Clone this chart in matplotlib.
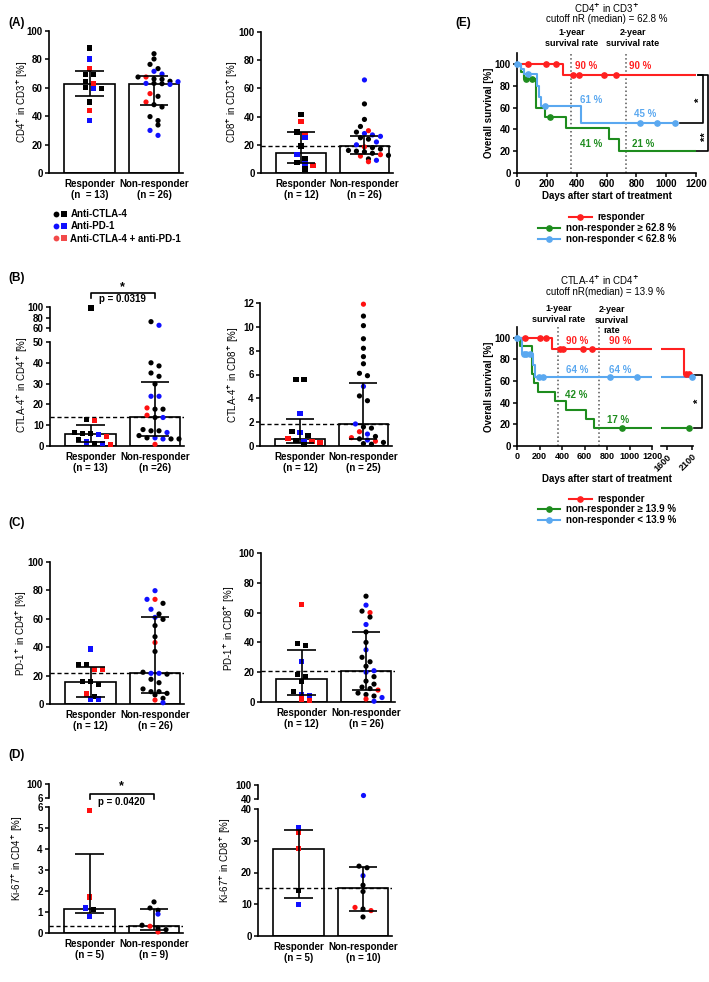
import numpy as np
import matplotlib
matplotlib.use("Agg")
import matplotlib.pyplot as plt
import matplotlib.transforms as mtransforms
from matplotlib.lines import Line2D
from matplotlib.legend_handler import HandlerTuple

plt.rcParams['font.family'] = ['Liberation Sans', 'DejaVu Sans']
plt.rcParams['font.weight'] = 'bold'
plt.rcParams['mathtext.fontset'] = 'dejavusans'
plt.rcParams['font.size'] = 7

#%% data  (C = anti-CTLA-4, P = anti-PD-1, CP = combination)
# (A) CD4+ in CD3+
A_cd4_resp = [88.0, 80.3, 73.5, 69.5, 69.5, 64.6, 63.1, 59.6, 59.4, 60.1, 50.0, 44.1, 36.9]
A_cd4_resp_tx = ['C', 'P', 'CP', 'C', 'C', 'C', 'CP', 'P', 'C', 'C', 'C', 'CP', 'P']
A_cd4_nonr = [84.0, 80.3, 76.5, 73.5, 71.6, 69.7, 67.6, 67.6, 66.2, 66.0, 64.6, 64.3, 63.1,
              63.1, 62.9, 62.4, 55.9, 54.0, 50.0, 48.1, 46.5, 39.7, 36.9, 33.8, 30.0, 26.5]
A_cd4_nonr_tx = ['C', 'C', 'C', 'C', 'P', 'P', 'C', 'CP', 'C', 'C', 'C', 'P', 'P',
                 'C', 'C', 'P', 'CP', 'C', 'CP', 'C', 'C', 'C', 'C', 'C', 'P', 'P']
A_cd4_med = [62.8, 62.8]
A_cd4_q1 = [54.5, 47.8]
A_cd4_q3 = [71.5, 68.1]

# (A) CD8+ in CD3+
A_cd8_resp = [41.6, 36.6, 29.1, 27.2, 25.1, 19.1, 13.2, 9.9, 7.3, 6.6, 5.2, 2.8]
A_cd8_resp_tx = ['C', 'CP', 'C', 'CP', 'P', 'C', 'P', 'C', 'C', 'P', 'CP', 'C']
A_cd8_nonr = [66, 49, 38, 33, 30, 29, 28, 27, 26, 25, 24, 22, 20,
              18.5, 18, 17, 16, 15.5, 15, 14, 13, 12.5, 12, 10, 9, 8]
A_cd8_nonr_tx = ['P', 'C', 'C', 'C', 'CP', 'C', 'P', 'P', 'P', 'C', 'C', 'P', 'P',
                 'CP', 'C', 'C', 'C', 'C', 'C', 'C', 'CP', 'C', 'CP', 'C', 'P', 'CP']
A_cd8_med = [14.2, 18.9]
A_cd8_q1 = [7.1, 13.5]
A_cd8_q3 = [28.8, 26.0]

# (B) CTLA-4+ in CD4+
B_cd4_resp = [98, 12.7, 12.1, 6.3, 6.0, 6.0, 5.6, 4.7, 3.1, 1.9, 1.1, 1.1, 0.8]
B_cd4_resp_tx = ['C', 'C', 'CP', 'C', 'C', 'C', 'P', 'CP', 'C', 'P', 'C', 'P', 'CP']
B_cd4_nonr = [72.5, 65.7, 40, 38.5, 35.1, 33.5, 29.8, 23.9, 23.9, 18.3, 17.7, 17.7, 14.8,
              13.7, 13.7, 7.9, 7.3, 7.3, 6.5, 5.0, 3.9, 3.9, 3.4, 3.4, 3.4, 0.8]
B_cd4_nonr_tx = ['C', 'P', 'C', 'C', 'C', 'C', 'C', 'P', 'P', 'CP', 'C', 'C', 'CP',
                 'C', 'P', 'C', 'C', 'C', 'P', 'C', 'C', 'P', 'P', 'C', 'C', 'CP']
B_cd4_med = [5.6, 13.9]
B_cd4_q1 = [1.8, 4.9]
B_cd4_q3 = [10.0, 30.8]

# (B) CTLA-4+ in CD8+
B_cd8_resp = [5.6, 5.6, 2.7, 1.2, 1.15, 0.9, 0.65, 0.45, 0.35, 0.35, 0.3, 0.1]
B_cd8_resp_tx = ['C', 'C', 'P', 'C', 'P', 'C', 'CP', 'C', 'P', 'CP', 'CP', 'C']
B_cd8_nonr = [11.9, 10.9, 10.1, 9.0, 8.2, 7.5, 6.9, 6.1, 5.9, 5.0, 4.2, 3.8, 1.85,
              1.6, 1.5, 1.2, 1.0, 0.8, 0.7, 0.6, 0.5, 0.4, 0.3, 0.2, 0.15]
B_cd8_nonr_tx = ['CP', 'C', 'C', 'C', 'C', 'C', 'C', 'C', 'C', 'P', 'C', 'C', 'P',
                 'C', 'C', 'CP', 'P', 'C', 'CP', 'C', 'P', 'CP', 'C', 'C', 'C']
B_cd8_med = [0.62, 1.85]
B_cd8_q1 = [0.28, 0.6]
B_cd8_q3 = [2.3, 5.3]

# (C) PD-1+ in CD4+
C_cd4_resp = [38.8, 28, 28, 24.5, 24.5, 15.8, 15.8, 13.9, 7.1, 5.2, 3.5, 3.5]
C_cd4_resp_tx = ['P', 'C', 'C', 'CP', 'CP', 'C', 'C', 'C', 'CP', 'C', 'P', 'P']
C_cd4_nonr = [79.8, 73.7, 73.7, 70.9, 66.7, 63.4, 61, 59.6, 55.2, 47.4, 43.3, 37, 22.4,
              21.6, 21.6, 21, 17.4, 15, 10.6, 8.7, 8.7, 7.5, 6.4, 4.0, 2.8, 0.9]
C_cd4_nonr_tx = ['P', 'P', 'CP', 'C', 'P', 'C', 'P', 'C', 'C', 'C', 'CP', 'C', 'C',
                 'P', 'P', 'C', 'C', 'C', 'C', 'C', 'C', 'C', 'C', 'C', 'CP', 'P']
C_cd4_med = [15.3, 21.5]
C_cd4_q1 = [5.2, 8.0]
C_cd4_q3 = [26.4, 61.5]

# (C) PD-1+ in CD8+
C_cd8_resp = [65.3, 39.5, 38, 27.2, 18.3, 17.2, 13.8, 7.1, 4.9, 4.2, 2.0, 0.9]
C_cd8_resp_tx = ['CP', 'C', 'C', 'P', 'C', 'C', 'C', 'C', 'P', 'P', 'CP', 'CP']
C_cd8_nonr = [71, 65, 61, 60, 57, 52, 47, 40, 35, 30, 27, 24, 21,
              20, 17, 14, 12, 10, 9, 8, 6, 5, 4, 3, 2, 0.5]
C_cd8_nonr_tx = ['C', 'P', 'C', 'CP', 'C', 'P', 'C', 'C', 'P', 'C', 'C', 'C', 'P',
                 'P', 'C', 'C', 'C', 'C', 'C', 'CP', 'C', 'C', 'C', 'P', 'CP', 'P']
C_cd8_med = [15.4, 20.5]
C_cd8_q1 = [4.5, 8.0]
C_cd8_q3 = [35.0, 47.0]

# (D) Ki-67+ in CD4+ / CD8+
D_cd4_resp = [5.85, 1.71, 1.19, 1.11, 0.79]
D_cd4_resp_tx = ['CP', 'CP', 'P', 'C', 'P']
D_cd4_nonr = [1.48, 1.19, 1.08, 0.9, 0.37, 0.32, 0.24, 0.16, 0.05]
D_cd4_nonr_tx = ['C', 'C', 'C', 'P', 'C', 'CP', 'C', 'C', 'CP']
D_cd4_med = [1.15, 0.33]
D_cd4_q1 = [0.95, 0.15]
D_cd4_q3 = [3.78, 1.13]

D_cd8_resp = [34.2, 32.5, 27.6, 14.3, 10.0]
D_cd8_resp_tx = ['P', 'CP', 'CP', 'C', 'P']
D_cd8_nonr = [57, 22, 21.5, 19, 16, 14, 9, 8.5, 8, 6]
D_cd8_nonr_tx = ['P', 'C', 'C', 'P', 'C', 'C', 'CP', 'C', 'CP', 'C']
D_cd8_med = [27.5, 15.0]
D_cd8_q1 = [12.1, 8.0]
D_cd8_q3 = [33.3, 21.6]

# (E) Kaplan-Meier, CD4+ in CD3+ cutoff 62.8 %
E1_resp_t = [0, 309, 1200]
E1_resp_s = [100, 90, 90]
E1_resp_cens = [74, 197, 264, 376, 414, 584, 667]
E1_high_t = [0, 29, 50, 130, 190, 331, 618, 683, 1200]
E1_high_s = [100, 93, 86, 60, 51.5, 41, 31, 20.6, 20.6]
E1_high_cens = [58, 103, 224]
E1_low_t = [0, 30, 45, 134, 150, 163, 432, 1059]
E1_low_s = [100, 95, 91, 80, 70, 61, 45.5, 45.5]
E1_low_cens = [0, 74, 190, 824, 936, 1059]

# (E) Kaplan-Meier, CTLA-4+ in CD4+ cutoff 13.9 %
E2_resp_t = [0, 314, 1940, 2040]
E2_resp_s = [100, 90, 67, 67]
E2_resp_cens = [74, 201, 261, 379, 409, 587, 670, 1980, 2040]
E2_high_t = [0, 30, 136, 151, 187, 335, 433, 616, 684, 2040]
E2_high_s = [100, 92, 67, 58.5, 50, 42, 33.5, 25, 17, 17]
E2_high_cens = [936, 2040]
E2_low_t = [0, 47, 142, 163, 2100]
E2_low_s = [100, 85, 75, 64, 64]
E2_low_cens = [0, 62, 83, 113, 196, 231, 830, 1067, 2100]

TX_COL = {'C': '#000000', 'P': '#1010ff', 'CP': '#ff1010'}
RED, GREEN, LBLUE = '#ff2020', '#1e8c1e', '#5aa8f0'

#%% layout helpers (pixel based)
FW, FH = 709, 982
fig = plt.figure(figsize=(FW / 100, FH / 100), dpi=100)


def px_ax(x0, x1, y0, y1):
    ax = fig.add_axes([x0 / FW, 1 - y1 / FH, (x1 - x0) / FW, (y1 - y0) / FH])
    ax.patch.set_alpha(0)
    for s in ['top', 'right']:
        ax.spines[s].set_visible(False)
    for s in ['left', 'bottom']:
        ax.spines[s].set_linewidth(1.2)
    ax.tick_params(length=3, width=1.1, labelsize=7, pad=1.5)
    return ax


def ftext(x, y, s, **kw):
    kw.setdefault('ha', 'center')
    kw.setdefault('va', 'center')
    fig.text(x / FW, 1 - y / FH, s, **kw)


def swarm_offsets(ax, vals, step_px=8.0, near_px=5.0):
    pos = ax.get_position()
    w_px, h_px = pos.width * FW, pos.height * FH
    x0, x1 = ax.get_xlim()
    y0, y1 = ax.get_ylim()
    ypx = (np.asarray(vals, float) - y0) / (y1 - y0) * h_px
    order = np.argsort(-ypx, kind='stable')
    rows = []
    for i in order:
        if rows and rows[-1][0] - ypx[i] < near_px:
            rows[-1][1].append(i)
            rows[-1][2] = ypx[i]
        else:
            rows.append([ypx[i], [i], ypx[i]])
    offs = np.zeros(len(vals))
    prev = None
    for top, idx, low in rows:
        o = (np.arange(len(idx)) - (len(idx) - 1) / 2) * step_px
        if prev is not None and prev[0] - top < near_px:
            if any(abs(a - b) < step_px * 0.9 for a in o for b in prev[1]):
                o = o + step_px / 2
        offs[idx] = o
        prev = (low, o)
    return offs * (x1 - x0) / w_px


def draw_points(ax, xc, vals, tx, marker):
    vals = np.asarray(vals, float)
    lo, hi = ax.get_ylim()
    keep = (vals >= lo) & (vals <= hi)
    if not keep.any():
        return
    v = vals[keep]
    cols = [TX_COL[t] for t, k in zip(tx, keep) if k]
    xs = xc + swarm_offsets(ax, v)
    ax.scatter(xs, v, s=14, marker=marker, c=cols, linewidths=0, zorder=3, clip_on=False)


def column_panel(axb, axt, resp, resp_tx, nonr, nonr_tx, med, q1, q3, xlabels,
                 ylim, yticks, ylim_top=None, yticks_top=None, cutoff=True):
    axb.set_xlim(-0.63, 1.45)
    axb.set_ylim(*ylim)
    axb.set_yticks(yticks)
    if axt is not None:
        axt.set_xlim(-0.63, 1.45)
        axt.set_ylim(*ylim_top)
        axt.set_yticks(yticks_top)
        axt.spines['bottom'].set_visible(False)
        axt.set_xticks([])
    axb.bar([0, 1], med, width=0.78, color='white', edgecolor='black', linewidth=1.2, zorder=1)
    if cutoff:
        axb.axhline(med[1], color='black', lw=1.0, ls=(0, (3, 2)), zorder=2)
    for ax in [a for a in (axb, axt) if a is not None]:
        draw_points(ax, 0, resp, resp_tx, 's')
        draw_points(ax, 1, nonr, nonr_tx, 'o')
    axb.vlines([0, 1], q1, q3, color='black', lw=1.2, zorder=4)
    for i in range(2):
        axb.hlines([q1[i], q3[i]], i - 0.22, i + 0.22, color='black', lw=1.2, zorder=4)
    axb.set_xticks([0, 1], xlabels, linespacing=1.2)
    axb.tick_params(axis='x', length=0, pad=4)


def sig_bracket(ax, y_px, star_px, text_px, ptxt):
    tr = mtransforms.blended_transform_factory(ax.transData, fig.transFigure)
    yl, yt = 1 - y_px / FH, 1 - (y_px + 5) / FH
    ax.plot([0, 0, 1, 1], [yt, yl, yl, yt], transform=tr, color='black', lw=1.2, clip_on=False)
    ax.text(0.5, 1 - star_px / FH, '*', transform=tr, ha='center', va='center', fontsize=9)
    ax.text(0.5, 1 - text_px / FH, ptxt, transform=tr, ha='center', va='center', fontsize=7)


#%% (A)
ax = px_ax(49, 183, 31, 173)
column_panel(ax, None, A_cd4_resp, A_cd4_resp_tx, A_cd4_nonr, A_cd4_nonr_tx,
             A_cd4_med, A_cd4_q1, A_cd4_q3, ['Responder\n(n  = 13)', 'Non-responder\n(n = 26)'],
             (0, 100), range(0, 101, 20), cutoff=False)
ftext(22, 102, r'CD4$^{+}$ in CD3$^{+}$ [%]', rotation=90, fontweight='normal')

ax = px_ax(261, 393, 32, 173)
column_panel(ax, None, A_cd8_resp, A_cd8_resp_tx, A_cd8_nonr, A_cd8_nonr_tx,
             A_cd8_med, A_cd8_q1, A_cd8_q3, ['Responder\n(n = 12)', 'Non-responder\n(n = 26)'],
             (0, 100), range(0, 101, 20))
ftext(232, 102, r'CD8$^{+}$ in CD3$^{+}$ [%]', rotation=90, fontweight='normal')

leg_cols = ['#000000', '#1010ff', '#f24a4a']
leg_handles = [(Line2D([], [], ls='', marker='o', color=c, ms=4.2, mew=0),
                Line2D([], [], ls='', marker='s', color=c, ms=4.2, mew=0)) for c in leg_cols]
fig.legend(leg_handles, ['Anti-CTLA-4', 'Anti-PD-1', 'Anti-CTLA-4 + anti-PD-1'],
           handler_map={tuple: HandlerTuple(ndivide=None, pad=0.1)},
           loc='upper left', bbox_to_anchor=(53 / FW, 1 - 209 / FH), frameon=False,
           fontsize=7, handlelength=1.5, handletextpad=0.3, labelspacing=0.25,
           borderpad=0, borderaxespad=0)

#%% (B)
axt = px_ax(50, 184, 307, 331)
axb = px_ax(50, 184, 342, 446)
column_panel(axb, axt, B_cd4_resp, B_cd4_resp_tx, B_cd4_nonr, B_cd4_nonr_tx,
             B_cd4_med, B_cd4_q1, B_cd4_q3, ['Responder\n(n = 13)', 'Non-responder\n(n =26)'],
             (0, 50), range(0, 51, 10), (55, 100), [60, 80, 100])
sig_bracket(axt, 293, 287, 299, 'p = 0.0319')
ftext(22, 385, r'CTLA-4$^{+}$ in CD4$^{+}$ [%]', rotation=90, fontweight='normal')

ax = px_ax(260, 392, 303, 446)
column_panel(ax, None, B_cd8_resp, B_cd8_resp_tx, B_cd8_nonr, B_cd8_nonr_tx,
             B_cd8_med, B_cd8_q1, B_cd8_q3, ['Responder\n(n = 12)', 'Non-responder\n(n = 25)'],
             (0, 12), range(0, 13, 2))
ftext(233, 375, r'CTLA-4$^{+}$ in CD8$^{+}$ [%]', rotation=90, fontweight='normal')

#%% (C)
ax = px_ax(50, 184, 562, 704)
column_panel(ax, None, C_cd4_resp, C_cd4_resp_tx, C_cd4_nonr, C_cd4_nonr_tx,
             C_cd4_med, C_cd4_q1, C_cd4_q3, ['Responder\n(n = 12)', 'Non-responder\n(n = 26)'],
             (0, 100), range(0, 101, 20))
ftext(21, 633, r'PD-1$^{+}$ in CD4$^{+}$ [%]', rotation=90, fontweight='normal')

ax = px_ax(261, 395, 553, 702)
column_panel(ax, None, C_cd8_resp, C_cd8_resp_tx, C_cd8_nonr, C_cd8_nonr_tx,
             C_cd8_med, C_cd8_q1, C_cd8_q3, ['Responder\n(n = 12)', 'Non-responder\n(n = 26)'],
             (0, 100), range(0, 101, 20))
ftext(229, 628, r'PD-1$^{+}$ in CD8$^{+}$ [%]', rotation=90, fontweight='normal')

#%% (D)
axt = px_ax(49, 183, 784, 798)
axb = px_ax(49, 183, 807, 933)
column_panel(axb, axt, D_cd4_resp, D_cd4_resp_tx, D_cd4_nonr, D_cd4_nonr_tx,
             D_cd4_med, D_cd4_q1, D_cd4_q3, ['Responder\n(n = 5)', 'Non-responder\n(n = 9)'],
             (0, 6), range(0, 7), (6, 100), [6, 100])
sig_bracket(axt, 794, 786, 802, 'p = 0.0420')
ftext(17, 858, r'Ki-67$^{+}$ in CD4$^{+}$ [%]', rotation=90, fontweight='normal')

axt = px_ax(258, 392, 785, 799)
axb = px_ax(258, 392, 809, 936)
column_panel(axb, axt, D_cd8_resp, D_cd8_resp_tx, D_cd8_nonr, D_cd8_nonr_tx,
             D_cd8_med, D_cd8_q1, D_cd8_q3, ['Responder\n(n = 5)', 'Non-responder\n(n = 10)'],
             (0, 40), range(0, 41, 10), (40, 100), [40, 100])
ftext(225, 860, r'Ki-67$^{+}$ in CD8$^{+}$ [%]', rotation=90, fontweight='normal')

for lab, y in [('(A)', 23), ('(B)', 278), ('(C)', 523), ('(D)', 755)]:
    ftext(8, y, lab, ha='left', fontsize=8.5)
ftext(455, 23, '(E)', ha='left', fontsize=8.5)


#%% (E) survival curves
def km_curve(ax, t, s, cens, col):
    ax.step(t, s, where='post', color=col, lw=1.5, zorder=3)
    lo, hi = ax.get_xlim()
    c = np.array([x for x in cens if lo <= x <= hi])
    if len(c):
        idx = np.searchsorted(t, c, side='right') - 1
        ax.plot(c, np.asarray(s)[idx], ls='', marker='o', color=col, ms=3.8, zorder=4, clip_on=False)


def km_axes(ax):
    ax.set_ylim(0, 110)
    ax.set_yticks(range(0, 101, 20))
    ax.axvline(365, color='#555555', ls=':', lw=1.1, zorder=1)
    ax.axvline(730, color='#555555', ls=':', lw=1.1, zorder=1)


def km_legend(y_px, col, label):
    h = Line2D([], [], color=col, lw=1.5, marker='o', ms=3.8)
    fig.legend([h], [label], loc='center', bbox_to_anchor=(607 / FW, 1 - y_px / FH),
               frameon=False, fontsize=7, handlelength=2.3, handletextpad=0.6,
               borderpad=0, borderaxespad=0)


# top: CD4+ in CD3+
ax = px_ax(517, 696, 53, 173)
ax.set_xlim(0, 1200)
ax.set_xticks(range(0, 1201, 200))
km_axes(ax)
km_curve(ax, E1_resp_t, E1_resp_s, E1_resp_cens, RED)
km_curve(ax, E1_high_t, E1_high_s, E1_high_cens, GREEN)
km_curve(ax, E1_low_t, E1_low_s, E1_low_cens, LBLUE)
for x, y, s, c in [(466, 98, '90 %', RED), (824, 98, '90 %', RED), (500, 67, '61 %', LBLUE),
                   (858, 54, '45 %', LBLUE), (500, 26.5, '41 %', GREEN), (846, 26.5, '21 %', GREEN)]:
    ax.text(x, y, s, color=c, ha='center', va='center', fontsize=7)
ax.plot([1212, 1280, 1280, 1175], [90, 90, 20.6, 20.6], color='black', lw=1.2, clip_on=False)
ax.plot([1212, 1247, 1247, 1093], [90, 90, 45.5, 45.5], color='black', lw=1.2, clip_on=False)
ax.text(1228, 67, '*', rotation=90, ha='center', va='center', fontsize=8)
ax.text(1264, 33, '**', rotation=90, ha='center', va='center', fontsize=8)
ftext(489, 113, 'Overall survival [%]', rotation=90)
ftext(607, 196, 'Days after start of treatment')
ftext(607, 8, r'CD4$^{+}$ in CD3$^{+}$', fontweight='normal')
ftext(607, 19, 'cutoff nR (median) = 62.8 %', fontweight='normal')
ftext(572, 38, '1-year\nsurvival rate', fontsize=6.5, linespacing=1.25)
ftext(633, 38, '2-year\nsurvival rate', fontsize=6.5, linespacing=1.25)
km_legend(217, RED, 'responder')
km_legend(228, GREEN, 'non-responder \u2265 62.8 %')
km_legend(239, LBLUE, 'non-responder < 62.8 %')

# bottom: CTLA-4+ in CD4+, broken x axis
ax = px_ax(517, 652, 327, 446)
ax.set_xlim(0, 1200)
ax.set_xticks(range(0, 1201, 200))
ax.tick_params(axis='x', labelsize=6.5)
km_axes(ax)
axr = px_ax(661, 693, 327, 446)
axr.set_xlim(1480, 2120)
axr.set_ylim(0, 110)
axr.set_xticks([1600, 2100])
axr.set_yticks([])
axr.spines['left'].set_visible(False)
for lab in axr.get_xticklabels():
    lab.set_rotation(45)
    lab.set_ha('right')
    lab.set_rotation_mode('anchor')
axr.tick_params(axis='x', labelsize=6.5)
for a in (ax, axr):
    km_curve(a, E2_resp_t, E2_resp_s, E2_resp_cens, RED)
    km_curve(a, E2_high_t, E2_high_s, E2_high_cens, GREEN)
    km_curve(a, E2_low_t, E2_low_s, E2_low_cens, LBLUE)
for x, y, s, c in [(536, 97, '90 %', RED), (918, 97, '90 %', RED), (536, 70, '64 %', LBLUE),
                   (918, 70, '64 %', LBLUE), (527, 47, '42 %', GREEN), (898, 24, '17 %', GREEN)]:
    ax.text(x, y, s, color=c, ha='center', va='center', fontsize=7)
axr.plot([2140, 2300, 2300, 2130], [66, 66, 17, 17], color='black', lw=1.2, clip_on=False)
axr.text(2235, 42, '*', rotation=90, ha='center', va='center', fontsize=8)
ftext(489, 387, 'Overall survival [%]', rotation=90)
ftext(607, 479, 'Days after start of treatment')
ftext(600, 280, r'CTLA-4$^{+}$ in CD4$^{+}$', fontweight='normal')
ftext(605, 292, 'cutoff nR(median) = 13.9 %', fontweight='normal')
ftext(559, 314, '1-year\nsurvival rate', fontsize=6.5, linespacing=1.25)
ftext(612, 320, '2-year\nsurvival\nrate', fontsize=6.5, linespacing=1.25)
km_legend(499, RED, 'responder')
km_legend(509, GREEN, 'non-responder \u2265 13.9 %')
km_legend(520, LBLUE, 'non-responder < 13.9 %')

plt.savefig('out.png', dpi=100)
